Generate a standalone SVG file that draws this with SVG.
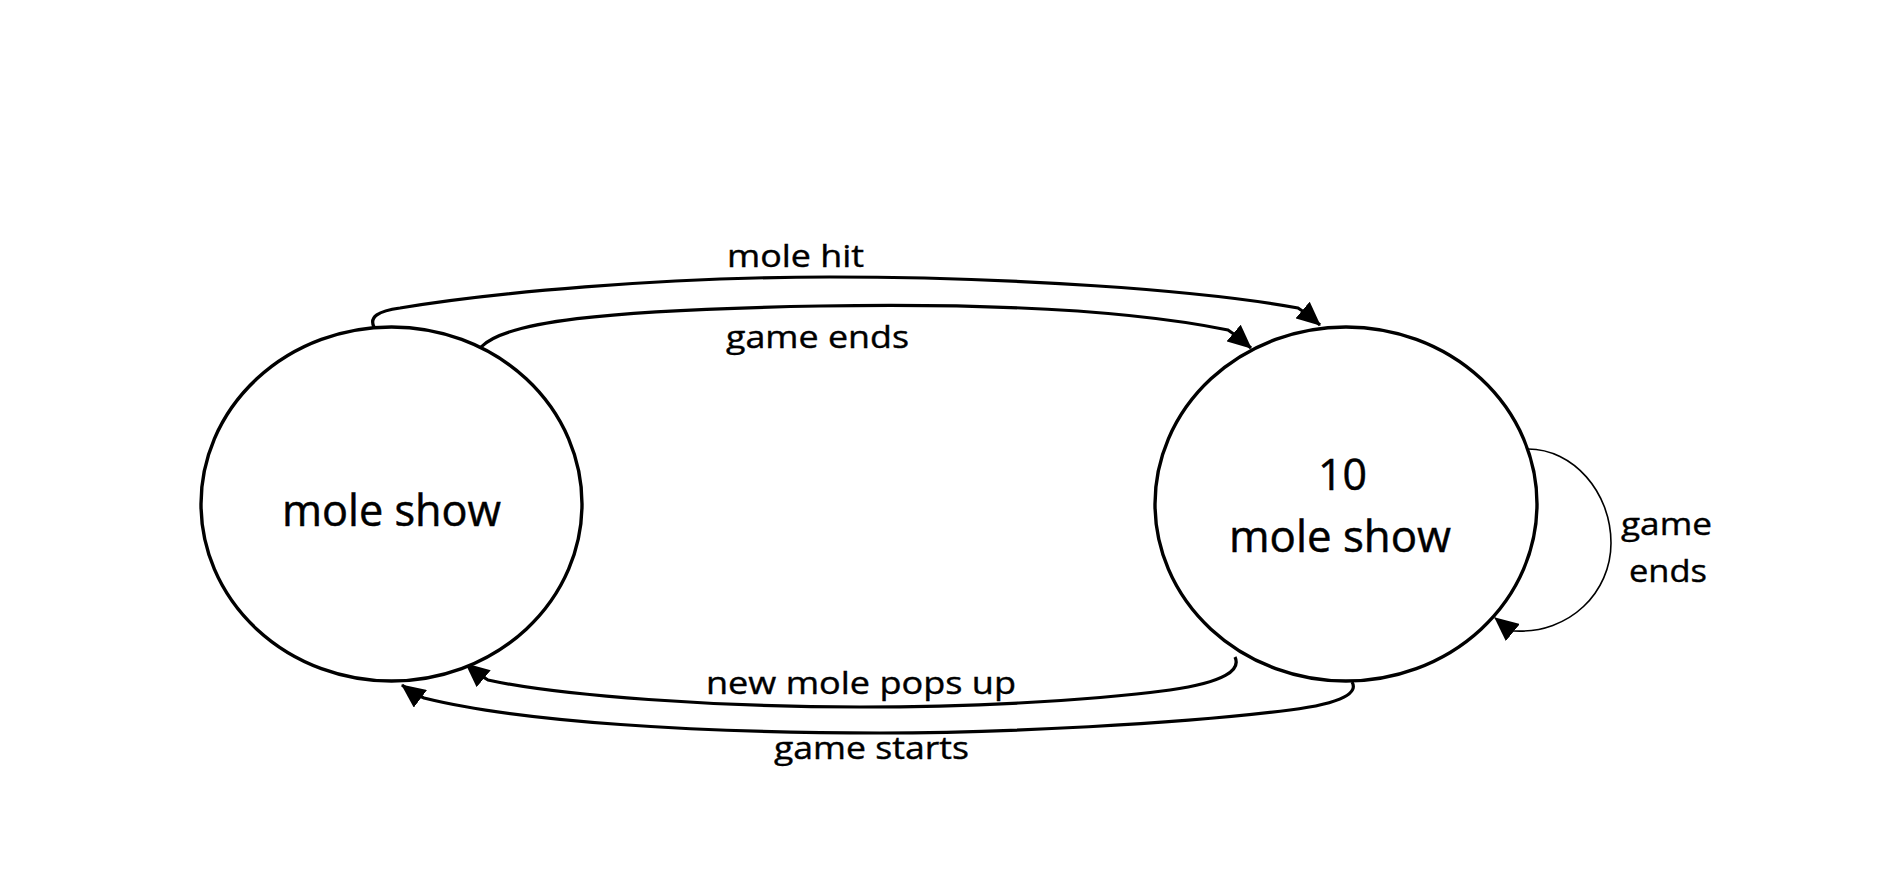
<svg xmlns="http://www.w3.org/2000/svg" width="1904" height="878" viewBox="0 0 1904 878">
  <style>
    .state { fill: #ffffff; stroke: #000000; stroke-width: 3.4; }
    .node-text { font-family: "Open Sans", "Liberation Sans", sans-serif; font-size: 44px; fill: #000000; stroke: #000000; stroke-width: 0.5; }
    .edge { fill: none; stroke: #000000; stroke-width: 3.2; marker-end: url(#arrow); }
    .edge-thin { fill: none; stroke: #000000; stroke-width: 1.6; marker-end: url(#arrow); }
    .label { font-family: "Open Sans", "Liberation Sans", sans-serif; font-size: 31px; fill: #000000; stroke: #000000; stroke-width: 0.4; }
  </style>
  <defs>
    <marker id="arrow" markerUnits="userSpaceOnUse" viewBox="0 0 24 22" markerWidth="24" markerHeight="22" refX="23" refY="11" orient="auto">
      <path d="M0,0 L24,11 L0,22 z" fill="#000000"/>
    </marker>
  </defs>
  <rect x="0" y="0" width="1904" height="878" fill="#ffffff"/>

  <g id="connectors">
    <path id="edge-mole-hit" class="edge" d="M374,327 C369,317 378,311 400,308 C490,293 660,277 830,277 C1010,277 1200,290 1298,308 Q1306,313 1320,325"/>
    <path id="edge-game-ends-top" class="edge" d="M481,347 C505,322 600,310 820,306 C1000,303 1140,312 1228,330 Q1237,336 1251,348"/>
    <path id="edge-new-mole" class="edge" d="M1235,657 C1241,670 1225,682 1170,690 C1080,702 960,707 860,707 C720,707 560,696 488,680 Q478,674 466,664"/>
    <path id="edge-game-starts" class="edge" d="M1352,682 C1358,692 1345,703 1290,710 C1180,724 1000,733 880,733 C700,733 520,722 424,698 Q414,694 402,685"/>
    <path id="edge-self-loop" class="edge-thin" d="M1519,449 L1528,449 C1573,449 1611,492 1611,543 C1611,592 1570,634 1514,631 Q1506,627 1495,618"/>
  </g>

  <g id="node-mole-show">
    <ellipse class="state" cx="391.5" cy="504" rx="190.5" ry="177"/>
    <text class="node-text" x="282" y="526" textLength="219" lengthAdjust="spacingAndGlyphs">mole show</text>
  </g>

  <g id="node-10-mole-show">
    <ellipse class="state" cx="1346" cy="504" rx="191" ry="177"/>
    <text class="node-text" x="1318" y="490" textLength="49" lengthAdjust="spacingAndGlyphs">10</text>
    <text class="node-text" x="1229" y="552" textLength="222" lengthAdjust="spacingAndGlyphs">mole show</text>
  </g>

  <g id="labels">
    <text class="label" x="727" y="267" textLength="137" lengthAdjust="spacingAndGlyphs">mole hit</text>
    <text class="label" x="726" y="348" textLength="183" lengthAdjust="spacingAndGlyphs">game ends</text>
    <text class="label" x="706" y="694" textLength="310" lengthAdjust="spacingAndGlyphs">new mole pops up</text>
    <text class="label" x="774" y="759" textLength="195" lengthAdjust="spacingAndGlyphs">game starts</text>
    <text class="label" x="1621" y="535" textLength="91" lengthAdjust="spacingAndGlyphs">game</text>
    <text class="label" x="1629" y="582" textLength="78" lengthAdjust="spacingAndGlyphs">ends</text>
  </g>
</svg>
